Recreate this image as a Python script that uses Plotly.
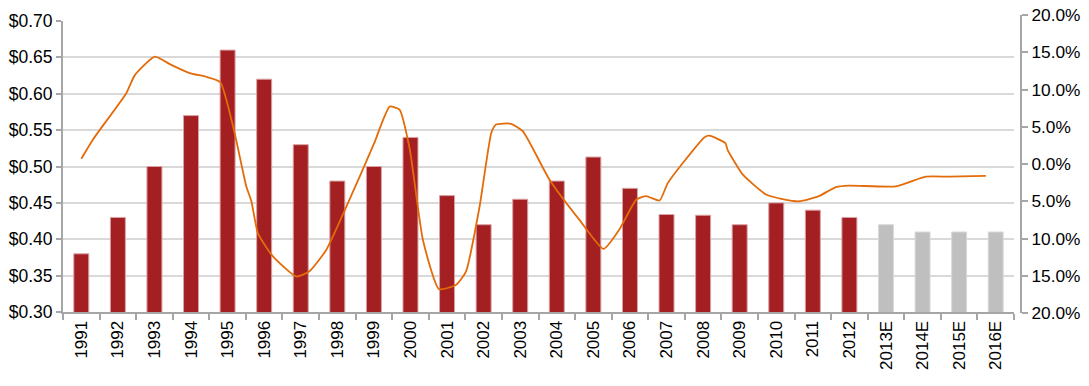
import plotly.graph_objects as go

# ---- data ----
years = ["1991", "1992", "1993", "1994", "1995", "1996", "1997", "1998", "1999", "2000",
         "2001", "2002", "2003", "2004", "2005", "2006", "2007", "2008", "2009", "2010",
         "2011", "2012", "2013E", "2014E", "2015E", "2016E"]
dividend = [0.38, 0.43, 0.50, 0.57, 0.66, 0.62, 0.53, 0.48, 0.50, 0.54,
            0.46, 0.42, 0.455, 0.48, 0.513, 0.47, 0.434, 0.433, 0.42, 0.45,
            0.44, 0.43, 0.42, 0.41, 0.41, 0.41]
is_estimate = [y.endswith("E") for y in years]

# growth curve (decimal year position, percent)
growth_x = [1991.0, 1991.32, 1992.23, 1992.46, 1993.01, 1993.46, 1993.96, 1994.42, 1994.8,
            1995.19, 1995.51, 1995.65, 1995.83, 1996.24, 1996.88, 1997.24, 1997.70, 1998.25,
            1999.0, 1999.43, 1999.70, 1999.98, 2000.34, 2000.78, 2001.25, 2001.52, 2001.89,
            2002.21, 2002.34, 2002.75, 2003.07, 2003.80, 2004.62, 2005.28, 2005.71, 2006.17,
            2006.44, 2006.81, 2007.03, 2007.44, 2008.04, 2008.17, 2008.61, 2008.67, 2009.08,
            2009.72, 2010.17, 2010.63, 2011.17, 2011.63, 2012.0, 2013.27, 2014.09, 2014.73,
            2015.73]
growth_pct = [0.7, 3.3, 9.5, 11.9, 14.4, 13.3, 12.2, 11.7, 11.0,
              4.2, -3.0, -5.0, -9.3, -12.4, -15.1, -14.4, -11.5, -5.7,
              2.7, 7.7, 7.3, 2.0, -10.2, -16.8, -16.2, -14.4, -5.7,
              4.2, 5.3, 5.4, 4.4, -2.1, -7.5, -11.4, -8.8, -4.8,
              -4.3, -4.9, -2.6, 0.1, 3.6, 3.8, 2.8, 1.9, -1.4,
              -4.1, -4.7, -5.0, -4.3, -3.1, -2.9, -3.0, -1.7, -1.7,
              -1.6]

left_ticks = [0.30, 0.35, 0.40, 0.45, 0.50, 0.55, 0.60, 0.65, 0.70]
right_ticks = [-20, -15, -10, -5, 0, 5, 10, 15, 20]
right_ticktext = ["20.0%", "15.0%", "10.0%", "5.0%", "0.0%", "5.0%", "10.0%", "15.0%", "20.0%"]

# ---- styles ----
RED = "#A31F22"
RED_EDGE = "#D9A3A5"
GRAY = "#BFBFBF"
GRAY_EDGE = "#DADADA"
ORANGE = "#E36C0A"
AXIS = "#A6A6A6"
GRID = "#D9D9D9"
FONT = "Liberation Sans, Arial, sans-serif"

colors = [GRAY if e else RED for e in is_estimate]
edges = [GRAY_EDGE if e else RED_EDGE for e in is_estimate]

W, H = 1089, 386
ml, mr, mt, mb = 63, 68, 15, 73
plot_h = H - mt - mb
x_end = (1014 - ml) / (W - ml - mr)

fig = go.Figure()
fig.add_trace(go.Bar(
    x=years, y=dividend,
    marker=dict(color=colors, line=dict(color=edges, width=1)),
    xaxis="x", yaxis="y", showlegend=False,
))
fig.add_trace(go.Scatter(
    x=growth_x, y=growth_pct, mode="lines",
    line=dict(color=ORANGE, width=1.8, shape="spline", smoothing=0.5),
    xaxis="x2", yaxis="y2", showlegend=False,
))

fig.update_layout(
    template="none",
    width=W, height=H,
    margin=dict(l=ml, r=mr, t=mt, b=mb, autoexpand=False),
    paper_bgcolor="white", plot_bgcolor="rgba(0,0,0,0)",
    font=dict(family=FONT, size=17, color="black"),
    bargap=0.59,
    xaxis=dict(
        type="category", domain=[0, x_end], anchor="y", automargin=False,
        tickson="boundaries", ticks="outside", ticklen=6, tickwidth=2, tickcolor=AXIS,
        tickangle=-90, tickfont=dict(size=17),
        showline=True, linecolor=AXIS, linewidth=2, showgrid=False,
        range=[-0.5, len(years) - 0.5],
    ),
    xaxis2=dict(
        domain=[0, x_end], anchor="y2", range=[1990.5, 2016.5], visible=False,
    ),
    yaxis=dict(
        domain=[1 / plot_h, (plot_h - 6) / plot_h], anchor="x", automargin=False,
        range=[0.30, 0.70], tickvals=left_ticks, tickformat="$.2f",
        ticks="outside", ticklen=5, tickwidth=2, tickcolor=AXIS,
        showline=True, linecolor=AXIS, linewidth=2,
        showgrid=True, gridcolor=GRID, gridwidth=2, zeroline=False,
        tickfont=dict(size=17.5),
    ),
    yaxis2=dict(
        domain=[0, 1], anchor="free", position=1.0, side="right", automargin=False,
        range=[-20, 20], tickvals=right_ticks, ticktext=right_ticktext,
        ticks="outside", ticklen=6, tickwidth=2, tickcolor=AXIS,
        showline=True, linecolor=AXIS, linewidth=2,
        showgrid=False, zeroline=False, tickfont=dict(size=17.3),
    ),
)

fig.write_html(
    "out.html",
    config={"displayModeBar": False},
    post_script="document.body.style.margin='0px';",
)
